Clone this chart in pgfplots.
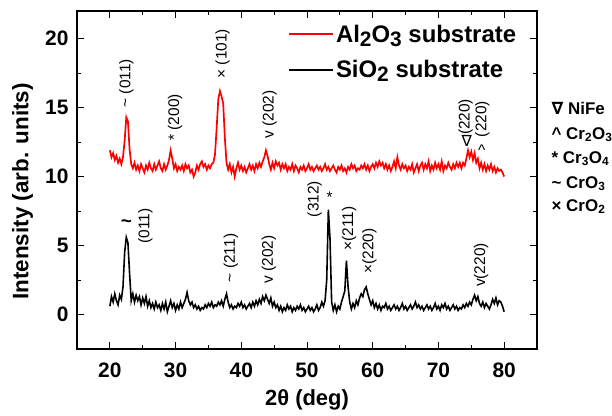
\documentclass[border=0pt]{standalone}
\usepackage{pgfplots}
\usepackage{pgfplotstable}
\pgfplotsset{compat=1.18}
\usepackage{fontspec}
\setmainfont{Liberation Sans}
\newfontfamily\dejavu{DejaVu Sans}

\pgfplotsset{
    every axis legend/.append style={legend cell align=left},
    legend image code/.code={\draw[#1] (0bp,0bp) -- (44bp,0bp);},
}

% Al2O3 substrate (red), 2theta vs intensity
\pgfplotstableread{
x y
20.00 11.9
20.25 11.4
20.50 11.7
20.75 11.2
21.00 11.5
21.25 11.0
21.50 11.3
21.75 10.9
22.00 11.4
22.25 12.6
22.50 14.3
22.75 14.0
23.00 12.0
23.25 10.9
23.50 10.6
23.75 11.0
24.00 10.5
24.25 10.8
24.50 10.4
24.75 10.9
25.00 10.6
25.25 10.3
25.50 10.8
25.75 10.5
26.00 11.0
26.25 10.6
26.50 10.4
26.75 10.9
27.00 10.5
27.25 10.8
27.50 11.1
27.75 10.6
28.00 10.4
28.25 10.9
28.50 10.5
28.75 10.8
29.00 11.2
29.25 11.9
29.50 11.3
29.75 10.6
30.00 10.9
30.25 10.4
30.50 10.7
30.75 10.5
31.00 10.8
31.25 10.4
31.50 10.9
31.75 10.6
32.00 10.8
32.25 10.3
32.50 10.5
32.75 10.0
33.00 10.3
33.25 10.8
33.50 10.5
33.75 10.9
34.00 11.1
34.25 10.7
34.50 10.9
34.75 10.5
35.00 10.8
35.25 10.6
35.50 10.9
35.75 11.0
36.00 11.6
36.25 13.5
36.50 15.6
36.75 16.2
37.00 15.8
37.25 15.3
37.50 12.8
37.75 11.0
38.00 10.5
38.25 10.9
38.50 10.3
38.75 10.7
39.00 10.0
39.25 10.6
39.50 11.0
39.75 10.5
40.00 10.8
40.25 10.4
40.50 10.7
40.75 10.3
41.00 10.6
41.25 10.9
41.50 10.5
41.75 10.8
42.00 10.4
42.25 10.9
42.50 10.6
42.75 11.0
43.00 10.7
43.25 11.1
43.50 11.4
43.75 11.9
44.00 11.5
44.25 10.9
44.50 10.5
44.75 11.0
45.00 10.6
45.25 11.1
45.50 10.8
45.75 11.0
46.00 10.5
46.25 10.9
46.50 10.6
46.75 10.9
47.00 10.4
47.25 10.7
47.50 10.5
47.75 10.9
48.00 10.4
48.25 10.8
48.50 10.6
48.75 10.3
49.00 10.7
49.25 10.5
49.50 10.8
49.75 10.4
50.00 10.6
50.25 10.9
50.50 10.5
50.75 10.7
51.00 10.4
51.25 10.6
51.50 10.8
51.75 10.5
52.00 10.7
52.25 10.4
52.50 10.6
52.75 10.9
53.00 10.5
53.25 10.7
53.50 10.4
53.75 10.6
54.00 10.8
54.25 10.5
54.50 10.3
54.75 10.7
55.00 10.5
55.25 10.8
55.50 10.4
55.75 10.6
56.00 10.3
56.25 10.7
56.50 10.5
56.75 10.9
57.00 10.6
57.25 10.8
57.50 10.4
57.75 10.6
58.00 10.5
58.25 10.8
58.50 10.6
58.75 10.9
59.00 10.5
59.25 10.8
59.50 10.4
59.75 10.7
60.00 10.9
60.25 10.6
60.50 11.0
60.75 10.7
61.00 11.1
61.25 10.8
61.50 11.0
61.75 10.6
62.00 10.9
62.25 10.5
62.50 10.8
62.75 10.4
63.00 10.7
63.25 11.1
63.50 10.6
63.75 11.4
64.00 10.8
64.25 10.5
64.50 10.9
64.75 10.6
65.00 10.8
65.25 10.4
65.50 10.7
65.75 10.5
66.00 10.9
66.25 10.3
66.50 10.6
66.75 10.9
67.00 10.4
67.25 10.8
67.50 11.0
67.75 10.5
68.00 10.9
68.25 10.6
68.50 11.1
68.75 10.4
69.00 10.8
69.25 10.5
69.50 11.0
69.75 10.6
70.00 10.9
70.25 10.5
70.50 11.1
70.75 10.4
71.00 10.8
71.25 10.6
71.50 11.0
71.75 10.7
72.00 10.5
72.25 10.9
72.50 10.6
72.75 11.0
73.00 10.7
73.25 11.0
73.50 10.6
73.75 11.0
74.00 10.8
74.25 11.3
74.50 11.9
74.75 11.4
75.00 11.8
75.25 11.2
75.50 11.7
75.75 11.0
76.00 11.3
76.25 10.6
76.50 11.0
76.75 10.5
77.00 10.9
77.25 10.4
77.50 10.8
77.75 10.5
78.00 10.9
78.25 10.4
78.50 10.7
78.75 10.3
79.00 10.6
79.25 10.4
79.50 10.5
79.75 10.3
80.00 10.0
}\alo

% SiO2 substrate (black)
\pgfplotstableread{
x y
20.00 0.6
20.25 1.3
20.50 0.9
20.75 1.5
21.00 1.0
21.25 0.7
21.50 1.4
21.75 1.1
22.00 2.0
22.25 4.5
22.50 5.6
22.75 5.2
23.00 3.0
23.25 1.0
23.50 1.5
23.75 0.9
24.00 1.4
24.25 1.0
24.50 1.3
24.75 0.7
25.00 1.2
25.25 0.8
25.50 1.3
25.75 0.6
26.00 1.0
26.25 0.5
26.50 0.8
26.75 0.4
27.00 0.9
27.25 0.5
27.50 0.7
27.75 0.3
28.00 0.8
28.25 0.4
28.50 0.9
28.75 0.2
29.00 0.6
29.25 1.0
29.50 0.5
29.75 0.8
30.00 0.3
30.25 0.7
30.50 0.4
30.75 0.9
31.00 0.5
31.25 0.8
31.50 1.1
31.75 1.6
32.00 1.0
32.25 0.7
32.50 0.9
32.75 0.5
33.00 0.7
33.25 0.4
33.50 0.6
33.75 0.3
34.00 0.5
34.25 0.4
34.50 0.7
34.75 0.5
35.00 0.8
35.25 0.6
35.50 0.9
35.75 0.5
36.00 0.7
36.25 0.6
36.50 0.9
36.75 0.7
37.00 1.0
37.25 0.6
37.50 1.1
37.75 1.5
38.00 0.9
38.25 0.5
38.50 0.7
38.75 0.4
39.00 0.6
39.25 0.5
39.50 0.8
39.75 0.6
40.00 0.9
40.25 0.5
40.50 0.7
40.75 0.4
41.00 0.6
41.25 0.8
41.50 0.5
41.75 0.9
42.00 0.6
42.25 1.0
42.50 0.7
42.75 1.1
43.00 0.8
43.25 1.3
43.50 1.0
43.75 1.4
44.00 1.1
44.25 0.8
44.50 1.2
44.75 0.6
45.00 0.9
45.25 0.5
45.50 0.7
45.75 0.3
46.00 0.6
46.25 0.2
46.50 0.5
46.75 0.3
47.00 0.7
47.25 0.4
47.50 0.6
47.75 0.2
48.00 0.5
48.25 0.3
48.50 0.6
48.75 0.4
49.00 0.7
49.25 0.3
49.50 0.5
49.75 0.2
50.00 0.4
50.25 0.6
50.50 0.3
50.75 0.5
51.00 0.2
51.25 0.4
51.50 0.7
51.75 0.3
52.00 0.5
52.25 0.9
52.50 0.6
52.75 1.0
53.00 2.5
53.25 7.6
53.50 5.5
53.75 0.9
54.00 0.3
54.25 0.7
54.50 0.2
54.75 0.6
55.00 0.4
55.25 0.9
55.50 1.3
55.75 1.7
56.00 3.9
56.25 2.0
56.50 0.9
56.75 0.4
57.00 0.8
57.25 0.5
57.50 1.0
57.75 0.7
58.00 1.2
58.25 1.5
58.50 1.3
58.75 1.8
59.00 2.0
59.25 1.5
59.50 1.1
59.75 0.7
60.00 1.0
60.25 0.5
60.50 0.8
60.75 0.4
61.00 0.7
61.25 0.3
61.50 0.6
61.75 0.5
62.00 0.8
62.25 0.4
62.50 0.6
62.75 0.3
63.00 0.5
63.25 0.7
63.50 0.4
63.75 0.6
64.00 0.3
64.25 0.5
64.50 0.8
64.75 0.4
65.00 0.6
65.25 0.3
65.50 0.5
65.75 0.7
66.00 0.4
66.25 0.6
66.50 0.9
66.75 0.5
67.00 0.7
67.25 0.4
67.50 0.6
67.75 0.3
68.00 0.5
68.25 0.7
68.50 0.4
68.75 0.6
69.00 0.3
69.25 0.5
69.50 0.8
69.75 0.4
70.00 0.6
70.25 0.3
70.50 0.7
70.75 0.5
71.00 0.8
71.25 0.4
71.50 0.6
71.75 0.3
72.00 0.5
72.25 0.7
72.50 0.4
72.75 0.6
73.00 0.3
73.25 0.5
73.50 0.4
73.75 0.7
74.00 0.5
74.25 0.8
74.50 0.6
74.75 0.9
75.00 0.7
75.25 1.1
75.50 1.4
75.75 1.0
76.00 1.3
76.25 0.8
76.50 0.6
76.75 0.9
77.00 0.5
77.25 0.8
77.50 0.6
77.75 0.4
78.00 0.7
78.25 1.1
78.50 0.8
78.75 1.2
79.00 0.7
79.25 1.0
79.50 0.9
79.75 0.6
80.00 0.2
}\sio

\newcommand{\ann}{\fontsize{15.5}{15.5}\selectfont}
\newcommand{\lsub}[1]{\raisebox{-4bp}{\fontsize{21}{21}\selectfont #1}}

\begin{document}
\begin{tikzpicture}
\begin{axis}[
    width=460bp, height=338bp, scale only axis,
    xmin=15, xmax=85, ymin=-2.5, ymax=22,
    xtick={20,30,...,80}, ytick={0,5,...,20},
    minor x tick num=1, minor y tick num=1,
    tick align=inside, tick pos=both,
    major tick length=7bp, minor tick length=4bp,
    axis line style={line width=1.2bp},
    tick style={line width=1bp, black},
    ticklabel style={font=\fontsize{21}{21}\selectfont\bfseries},
    yticklabel style={xshift=-5bp},
    xticklabel style={yshift=-10bp},
    /pgf/number format/assume math mode=true,
    xlabel={2θ (deg)}, ylabel={Intensity (arb. units)},
    every axis x label/.style={at={(axis description cs:0.5,-0.151)}, anchor=center,
        font=\fontsize{22}{22}\selectfont\bfseries},
    every axis y label/.style={at={(axis description cs:-0.1185,0.466)}, anchor=center,
        rotate=90, font=\fontsize{22.5}{22.5}\selectfont\bfseries},
    clip=false,
    legend style={at={(axis description cs:0.459,0.966)}, anchor=north west,
        draw=none, fill=none, inner sep=0pt, row sep=13bp,
        font=\fontsize{24}{24}\selectfont\bfseries},
]
\addplot[red, line width=1.7bp] table {\alo};
\addlegendentry{Al\lsub{2}O\lsub{3} substrate}
\addplot[black, line width=1.6bp] table {\sio};
\addlegendentry{SiO\lsub{2} substrate}

\coordinate (sw) at (rel axis cs:0,0);
\coordinate (ne) at (rel axis cs:1,1);

% peak labels, Al2O3
\begin{scope}[every node/.style={font=\ann, inner sep=0pt}]
\node[rotate=90, anchor=west] at (axis cs:22.5,15.0) {\textasciitilde{} (011)};
\node[rotate=90, anchor=west] at (axis cs:29.95,12.6) {* (200)};
\node[rotate=90, anchor=west] at (axis cs:37.15,17.1) {× (101)};
\node[rotate=90, anchor=west] at (axis cs:44.3,12.75) {v (202)};
\node[anchor=center] at (axis cs:74.3,12.6) {{\dejavu ∇}};
\node[rotate=90, anchor=west] at (axis cs:74.15,13.0) {(220)};
\node[anchor=center] at (axis cs:76.6,11.9) {\textasciicircum};
\node[rotate=90, anchor=west] at (axis cs:76.67,12.85) {(220)};
% peak labels, SiO2
\node[anchor=center, font=\fontsize{19}{19}\selectfont\bfseries] at (axis cs:22.5,6.6) {\textasciitilde};
\node[rotate=90, anchor=west] at (axis cs:25.4,5.12) {(011)};
\node[rotate=90, anchor=west] at (axis cs:38.4,2.34) {\textasciitilde{} (211)};
\node[rotate=90, anchor=west] at (axis cs:44.2,2.22) {v (202)};
\node[rotate=90, anchor=west] at (axis cs:51.17,7.05) {(312)};
\node[anchor=center] at (axis cs:53.45,8.5) {*};
\node[rotate=90, anchor=west] at (axis cs:56.4,4.64) {×(211)};
\node[rotate=90, anchor=west] at (axis cs:59.5,2.95) {×(220)};
\node[rotate=90, anchor=west] at (axis cs:76.5,1.98) {v(220)};
\end{scope}

% phase key on the right
\begin{scope}[every node/.style={font=\fontsize{17}{17}\selectfont\bfseries, inner sep=0pt, anchor=base west}]
\node at (axis cs:87.2,14.53) {{\dejavu ∇} NiFe};
\node at (axis cs:87.2,12.72) {\textasciicircum{} Cr\textsubscript{2}O\textsubscript{3}};
\node at (axis cs:87.2,10.98) {* Cr\textsubscript{3}O\textsubscript{4}};
\node at (axis cs:87.2,9.17) {\textasciitilde{} CrO\textsubscript{3}};
\node at (axis cs:87.2,7.50) {× CrO\textsubscript{2}};
\end{scope}
\end{axis}
\pgfresetboundingbox
\path[use as bounding box] ([shift={(-77bp,-67bp)}]sw) rectangle ([shift={(75bp,11bp)}]ne);
\end{tikzpicture}
\end{document}
